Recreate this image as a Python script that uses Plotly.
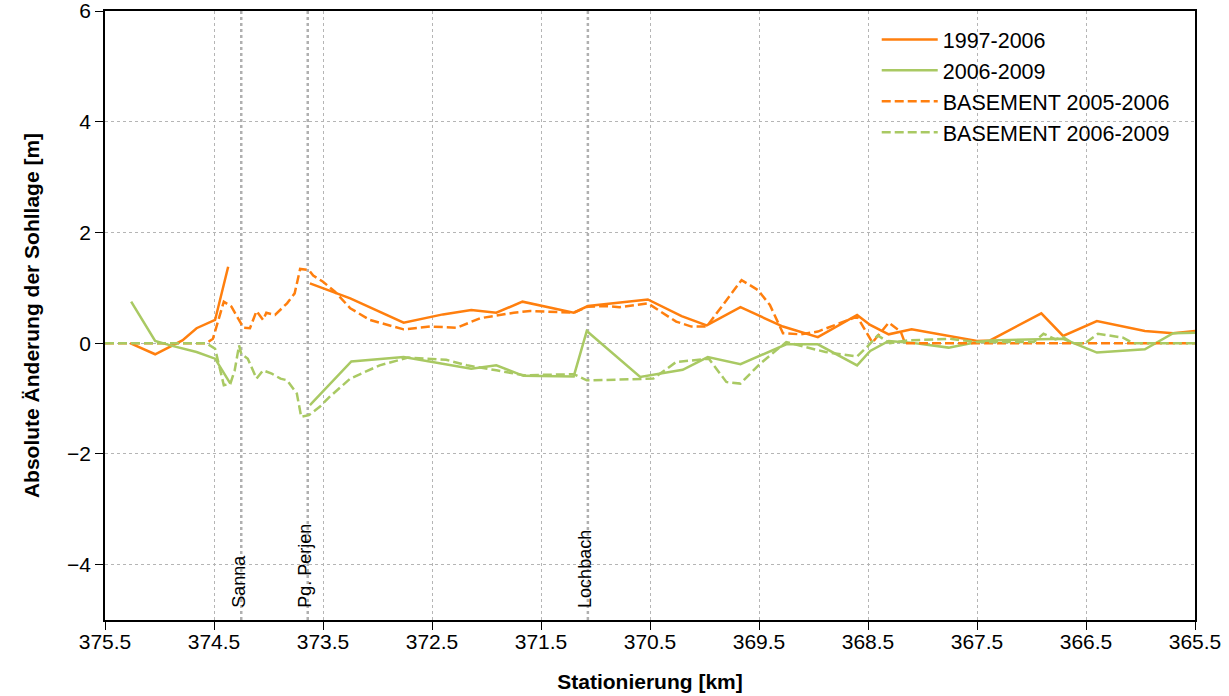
import plotly.graph_objects as go

# 1997-2006 (measured)
km_meas_a = [375.27, 375.04, 374.79, 374.66, 374.49, 374.37, None, 373.62, 373.25, 372.76, 372.40, 372.14, 371.91, 371.67,
             371.20, 371.07, 370.52, 370.21, 369.98, 369.67, 369.28, 368.96, 368.60, 368.48, 368.31, 368.10,
             367.50, 367.38, 366.91, 366.71, 366.40, 365.96, 365.70, 365.50]
val_meas_a = [0.0, -0.20, 0.05, 0.27, 0.42, 1.38, None, 1.08, 0.81, 0.37, 0.52, 0.60, 0.55, 0.75,
              0.55, 0.67, 0.79, 0.49, 0.32, 0.65, 0.30, 0.11, 0.51, 0.33, 0.16, 0.25,
              0.04, 0.05, 0.54, 0.13, 0.40, 0.22, 0.18, 0.22]

# 2006-2009 (measured)
km_meas_b = [375.26, 375.04, 374.90, 374.66, 374.49, 374.35, None, 373.62, 373.24, 372.76, 372.14, 371.91, 371.66,
             371.20, 371.08, 370.59, 370.20, 369.97, 369.67, 369.25, 368.96, 368.60, 368.48, 368.31, 368.11,
             367.76, 367.50, 367.38, 366.71, 366.40, 365.96, 365.70, 365.50]
val_meas_b = [0.75, 0.04, -0.04, -0.16, -0.28, -0.73, None, -1.12, -0.33, -0.25, -0.46, -0.40, -0.59,
              -0.60, 0.22, -0.61, -0.48, -0.25, -0.38, -0.02, -0.02, -0.40, -0.14, 0.04, 0.01,
              -0.08, 0.02, 0.05, 0.08, -0.17, -0.11, 0.18, 0.19]

# BASEMENT 2005-2006 (simulated)
km_sim_a = [375.50, 374.57, 374.51, 374.41, 374.34, 374.26, 374.23, 374.17, 374.11, 374.05, 374.02, 373.94,
            373.83, 373.76, 373.71, 373.63, 373.59, 373.50, 373.39, 373.25, 373.07, 372.76, 372.52,
            372.27, 372.06, 371.75, 371.60, 371.20, 371.07, 370.90, 370.78, 370.52, 370.26, 370.12,
            369.98, 369.66, 369.51, 369.40, 369.28, 369.12, 368.96, 368.76, 368.60, 368.51, 368.46,
            368.31, 368.20, 368.16, 365.50]
val_sim_a = [0.0, 0.0, 0.08, 0.75, 0.66, 0.39, 0.28, 0.27, 0.58, 0.42, 0.55, 0.51,
             0.72, 0.90, 1.34, 1.32, 1.22, 1.11, 0.93, 0.63, 0.42, 0.25, 0.30,
             0.28, 0.45, 0.55, 0.58, 0.55, 0.66, 0.67, 0.65, 0.72, 0.39, 0.30,
             0.30, 1.14, 0.96, 0.69, 0.18, 0.16, 0.21, 0.36, 0.48, 0.18, 0.01,
             0.37, 0.21, 0.0, 0.0]

# BASEMENT 2006-2009 (simulated)
km_sim_b = [375.50, 374.57, 374.49, 374.41, 374.35, 374.31, 374.27, 374.25, 374.19, 374.11, 374.05, 373.97,
            373.89, 373.83, 373.74, 373.70, 373.63, 373.53, 373.44, 373.25, 372.98, 372.72, 372.37,
            372.18, 371.91, 371.66, 371.20, 371.08, 370.81, 370.47, 370.26, 370.07, 369.96, 369.80,
            369.67, 369.49, 369.25, 368.89, 368.60, 368.51, 368.41, 368.30, 368.14, 367.75, 367.50,
            366.98, 366.89, 366.78, 366.71, 366.62, 366.51, 366.39, 366.16, 366.07, 365.50]
val_sim_b = [0.0, 0.0, -0.10, -0.76, -0.73, -0.49, -0.04, -0.19, -0.28, -0.64, -0.49, -0.55,
             -0.64, -0.67, -0.91, -1.33, -1.30, -1.15, -0.97, -0.64, -0.40, -0.26, -0.30,
             -0.40, -0.49, -0.58, -0.56, -0.67, -0.66, -0.64, -0.34, -0.31, -0.28, -0.70,
             -0.73, -0.37, 0.02, -0.16, -0.24, -0.07, 0.14, 0.0, 0.05, 0.08, 0.02,
             0.02, 0.17, 0.07, 0.11, 0.0, 0.0, 0.17, 0.10, 0.0, 0.0]

landmark_names = ["Sanna", "Pg. Perjen", "Lochbach"]
landmark_km = [374.25, 373.64, 371.07]

x_ticks = [375.5, 374.5, 373.5, 372.5, 371.5, 370.5, 369.5, 368.5, 367.5, 366.5, 365.5]
y_ticks = [6, 4, 2, 0, -2, -4]

ORANGE = "#ff7f0e"
GREEN = "#a9c963"
FONT = "Liberation Sans, Arial, sans-serif"
DASH = "9px,4px"

fig = go.Figure()
fig.add_trace(go.Scatter(x=km_meas_a, y=val_meas_a, mode="lines", name="1997-2006",
                         line=dict(color=ORANGE, width=2.5), connectgaps=False))
fig.add_trace(go.Scatter(x=km_meas_b, y=val_meas_b, mode="lines", name="2006-2009",
                         line=dict(color=GREEN, width=2.5), connectgaps=False))
fig.add_trace(go.Scatter(x=km_sim_a, y=val_sim_a, mode="lines", name="BASEMENT 2005-2006",
                         line=dict(color=ORANGE, width=2.5, dash=DASH)))
fig.add_trace(go.Scatter(x=km_sim_b, y=val_sim_b, mode="lines", name="BASEMENT 2006-2009",
                         line=dict(color=GREEN, width=2.5, dash=DASH)))

for name, k in zip(landmark_names, landmark_km):
    fig.add_shape(type="line", x0=k, x1=k, y0=0, y1=1, xref="x", yref="paper",
                  line=dict(color="#b0b0b0", width=2.5, dash="dot"), layer="below")
    fig.add_annotation(x=k, y=-4.82, text=name, textangle=-90, showarrow=False,
                       xanchor="center", yanchor="bottom", xshift=-3,
                       font=dict(size=18, color="black", family=FONT))

fig.update_layout(
    width=1229, height=696,
    margin=dict(l=105, r=34, t=11, b=76, autoexpand=False),
    plot_bgcolor="white", paper_bgcolor="white",
    font=dict(family=FONT, size=21, color="black"),
    showlegend=True,
    legend=dict(x=0.708, y=0.987, xanchor="left", yanchor="top", bgcolor="rgba(0,0,0,0)",
                font=dict(size=21.5, family=FONT), tracegroupgap=0, itemwidth=56),
)
fig.update_xaxes(range=[375.5, 365.5], tickvals=x_ticks, ticktext=[f"{t:.1f}" for t in x_ticks],
                 showgrid=True, gridcolor="#b5b5b5", griddash="dot", gridwidth=1,
                 showline=True, linecolor="black", linewidth=1.5, mirror=True, automargin=False,
                 ticklabeloverflow="allow", ticklabelstandoff=-6,
                 ticks="outside", ticklen=8, tickcolor="black", zeroline=False,
                 title=dict(text="<b>Stationierung [km]</b>", font=dict(size=21), standoff=22))
fig.update_yaxes(range=[-5, 6], tickvals=y_ticks,
                 showgrid=True, gridcolor="#b5b5b5", griddash="dot", gridwidth=1,
                 showline=True, linecolor="black", linewidth=1.5, mirror=True, automargin=False,
                 ticklabeloverflow="allow",
                 ticks="outside", ticklen=8, tickcolor="black", zeroline=False,
                 title=dict(text="<b>Absolute Änderung der Sohllage [m]</b>", font=dict(size=21), standoff=22))

fig.write_html("out.html")
